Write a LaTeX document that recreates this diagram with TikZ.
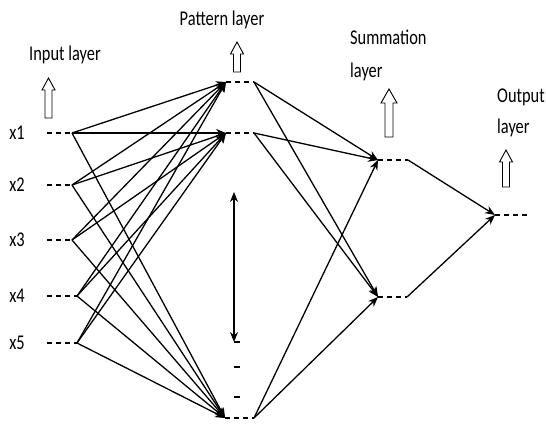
\documentclass[tikz,border=0pt]{standalone}
\usepackage{fontspec}
\setmainfont{Carlito}[FakeStretch=0.78]
\usetikzlibrary{arrows.meta}
\begin{document}
\begin{tikzpicture}[x=1pt,y=-1pt,
  lbl/.style={font=\fontsize{21}{24}\selectfont, inner sep=0pt},
  conn/.style={line width=1.3pt, -{Stealth[length=10pt,width=8pt]}},
  plain/.style={line width=1.3pt},
  dsh/.style={line width=1.3pt, dash pattern=on 5pt off 4pt},
  blockup/.style={draw, line width=0.9pt, fill=white}
]
\useasboundingbox (0,0) rectangle (546,426);
% block up arrows drawn as polygons: x, ytop, ybottom, shaft half width, head half width, head height
\newcommand{\upblock}[6]{%
  \draw[blockup] (#1-#4,#3) -- (#1-#4,#2+#6) -- (#1-#5,#2+#6) -- (#1,#2) -- (#1+#5,#2+#6) -- (#1+#4,#2+#6) -- (#1+#4,#3) -- cycle;}

% labels
\node[lbl] (tin) at (65,55) {Input layer};
\node[lbl] (tpat) at (222,20) {Pattern layer};
\node[lbl, anchor=west] (tsum1) at (350,37) {Summation};
\node[lbl, anchor=west] (tsum2) at (350,72) {layer};
\node[lbl, anchor=west] (tout1) at (497,97) {Output};
\node[lbl, anchor=west] (tout2) at (497,128) {layer};

\upblock{48.5}{78}{118}{3.5}{6.5}{12}
\upblock{237}{42}{72}{3.5}{6.5}{12}
\upblock{389}{89}{137}{4}{8}{14}
\upblock{506}{150}{187}{3.5}{6.5}{12}

% input nodes
\foreach \n/\y/\e in {1/133/72, 2/185/72, 3/240/72, 4/296/77, 5/343/77}{
  \node[lbl] (xl\n) at (17,\y) {x\n};
  \coordinate (xs\n) at (47,\y);
  \coordinate (x\n) at (\e,\y);
  \draw[dsh] (xs\n) -- (x\n);
}

% pattern nodes
\coordinate (p1) at (226,82);  \coordinate (p1e) at (254,82);
\coordinate (p2) at (226,133); \coordinate (p2e) at (254,133);
\coordinate (p3) at (225,418); \coordinate (p3e) at (254,418);
\foreach \p in {1,2,3}{ \draw[dsh] (p\p) -- (p\p e); }

% summation nodes
\coordinate (s1) at (378,160); \coordinate (s1e) at (408,160);
\coordinate (s2) at (378,297); \coordinate (s2e) at (407,297);
\foreach \s in {1,2}{ \draw[dsh] (s\s) -- (s\s e); }

% output node
\coordinate (o) at (495,215); \coordinate (oe) at (527,215);
\draw[dsh] (o) -- (oe);

% input -> pattern
\foreach \n in {1,...,5}{
  \foreach \p in {1,2,3}{
    \draw[conn] (x\n) -- (p\p);
  }
}
% pattern -> summation
\foreach \p in {1,2,3}{
  \foreach \s in {1,2}{
    \draw[conn] (p\p e) -- (s\s);
  }
}
% summation -> output
\draw[conn] (s1e) -- (o);
\draw[conn] (s2e) -- (o);

% vertical ellipsis arrow
\coordinate (va) at (234,192);
\coordinate (vb) at (234,342);
\draw[line width=1.3pt, {Stealth[length=10pt,width=8pt]}-{Stealth[length=10pt,width=8pt]}] (va) -- (vb);
\foreach \y in {342,367,397}{
  \coordinate (d\y a) at (234,\y); \coordinate (d\y b) at (240,\y);
  \draw[plain] (d\y a) -- (d\y b);
}
\end{tikzpicture}
\end{document}
